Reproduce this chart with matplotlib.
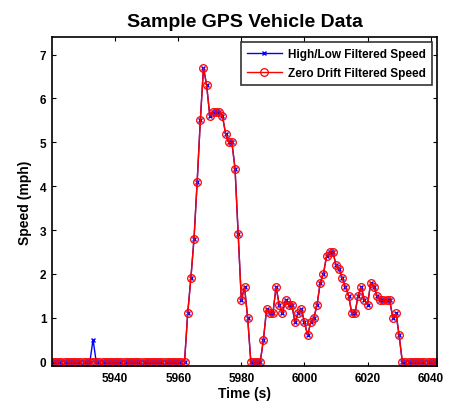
import numpy as np
import matplotlib
matplotlib.use("Agg")
import matplotlib.pyplot as plt

plt.rcParams['font.family'] = ['Liberation Sans', 'DejaVu Sans']
plt.rcParams['font.weight'] = 'bold'

# time axis, one sample per second
t_start = 5920
t_end = 6042

# zero drift filtered speed (mph) from 5963 on; zero elsewhere
moving_1 = [1.1, 1.9, 2.8, 4.1, 5.5, 6.7, 6.3, 5.6, 5.7, 5.7,
            5.7, 5.6, 5.2, 5.0, 5.0, 4.4, 2.9, 1.4, 1.7, 1.0]      # 5963-5982
stopped_2 = [0, 0, 0, 0]                                           # 5983-5986
moving_2 = [0.5, 1.2, 1.1, 1.1, 1.7, 1.3, 1.1, 1.4, 1.3, 1.3,
            0.9, 1.1, 1.2, 0.9, 0.6, 0.9, 1.0, 1.3, 1.8, 2.0,
            2.4, 2.5, 2.5, 2.2, 2.1, 1.9, 1.7, 1.5, 1.1, 1.1,
            1.5, 1.7, 1.4, 1.3, 1.8, 1.7, 1.5, 1.4, 1.4, 1.4,
            1.4, 1.0, 1.1, 0.6]                                    # 5987-6030

time = np.arange(t_start, t_end + 1)
zero_drift = np.zeros(len(time))
seg = moving_1 + stopped_2 + moving_2
zero_drift[(time >= 5963) & (time < 5963 + len(seg))] = seg

# high/low filtered speed has one extra blip before the drive starts
blip_time = 5933
blip_value = 0.5
high_low = zero_drift.copy()
high_low[time == blip_time] = blip_value

fig = plt.figure(figsize=(4.5, 4.06), dpi=100)
ax = fig.add_axes([0.1156, 0.0961, 0.8555, 0.8103])

ax.plot(time, high_low, color='blue', marker='x', markersize=3.5,
        linewidth=1, label='High/Low Filtered Speed')
ax.plot(time, zero_drift, color='red', marker='o', markersize=5.5,
        markerfacecolor='none', markeredgewidth=0.9, linewidth=1,
        label='Zero Drift Filtered Speed')

ax.set_xlim(t_start, t_end)
ax.set_ylim(-0.1, 7.4)
ax.set_xticks(np.arange(5940, 6041, 20))
ax.set_yticks(np.arange(0, 8, 1))

ax.tick_params(direction='in', top=True, right=True, length=3,
               width=0.8, labelsize=8.5, pad=4)
for lab in ax.get_xticklabels() + ax.get_yticklabels():
    lab.set_fontweight('bold')
for sp in ax.spines.values():
    sp.set_linewidth(1.2)

ax.set_title('Sample GPS Vehicle Data', fontsize=14, fontweight='bold', pad=8)
ax.set_xlabel('Time (s)', fontsize=10, fontweight='bold', labelpad=2)
ax.set_ylabel('Speed (mph)', fontsize=10, fontweight='bold', labelpad=6)

leg = ax.legend(loc='upper right', fontsize=8.5, frameon=True, fancybox=False,
                edgecolor='black', borderaxespad=0.45, handlelength=3.0,
                labelspacing=0.55, borderpad=0.5, handletextpad=0.5)
leg.get_frame().set_linewidth(1.2)
for txt in leg.get_texts():
    txt.set_fontweight('bold')

fig.savefig('out.png', dpi=100)
